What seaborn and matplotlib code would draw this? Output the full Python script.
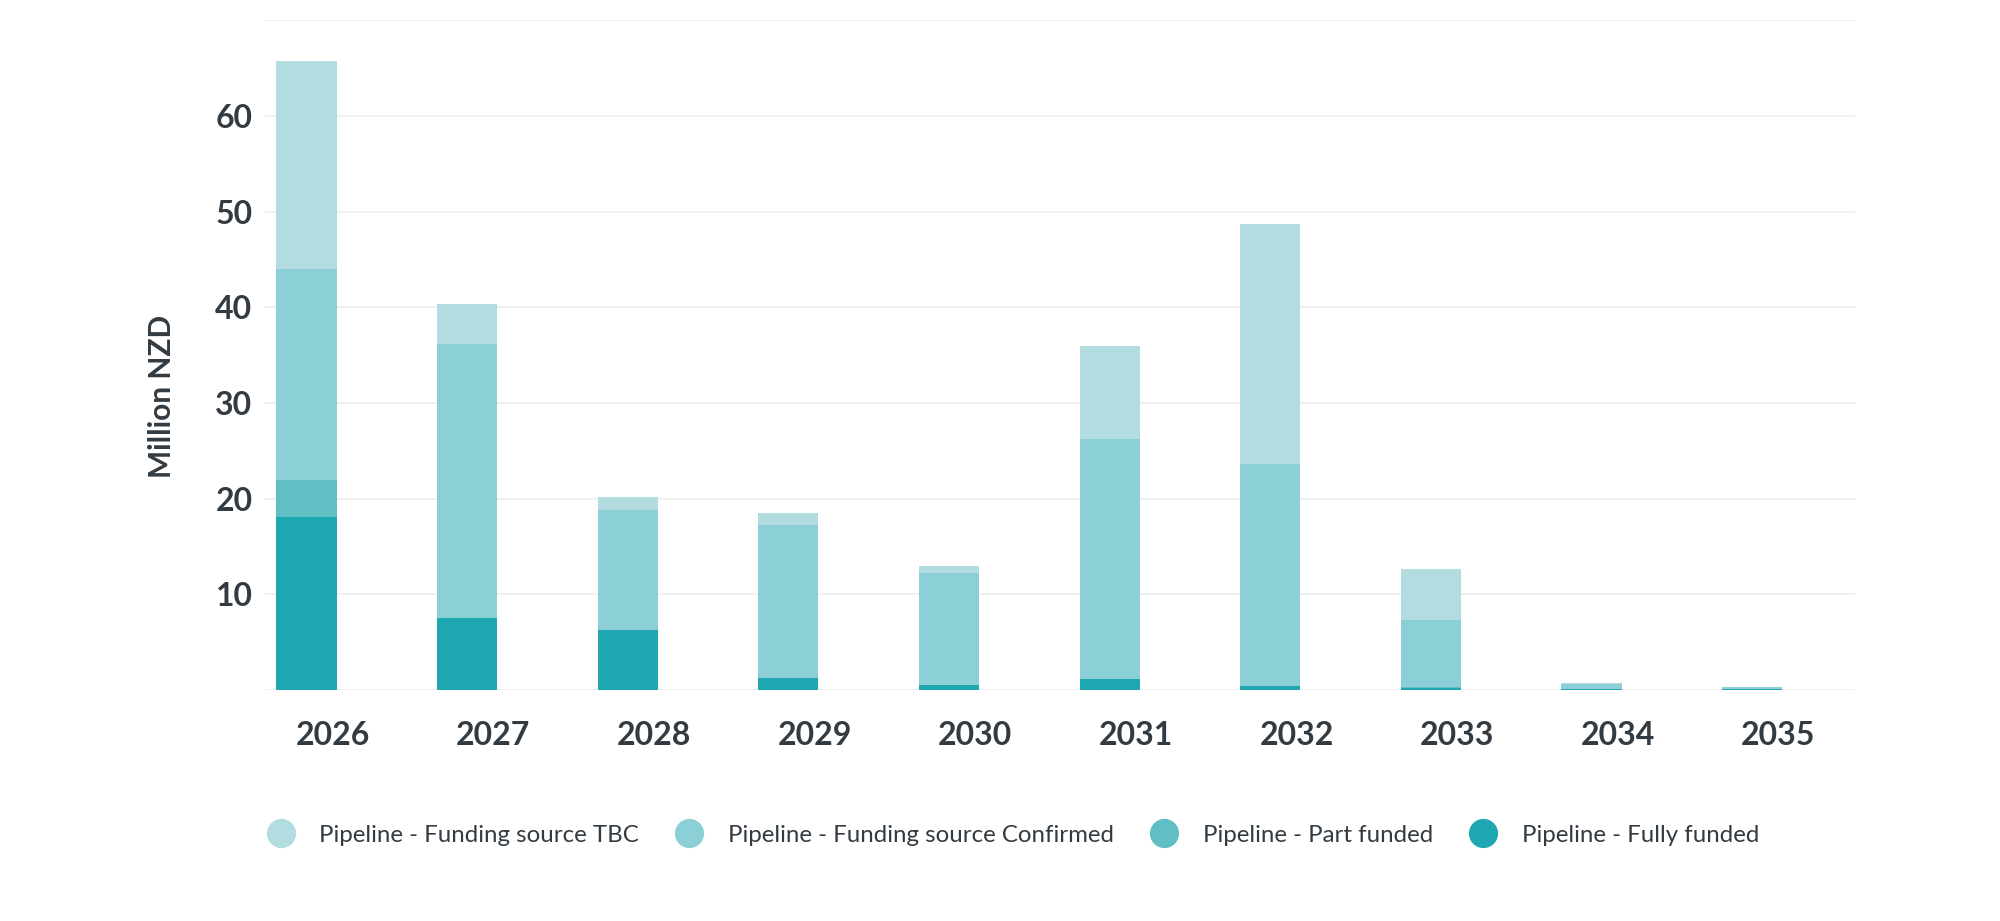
import numpy as np
import pandas as pd
import seaborn as sns
import matplotlib.pyplot as plt
from matplotlib.lines import Line2D

# data (million NZD)
years = ["2026", "2027", "2028", "2029", "2030", "2031", "2032", "2033", "2034", "2035"]
fully_funded = [18.1, 7.5, 6.3, 1.3, 0.5, 1.2, 0.45, 0.25, 0.1, 0.1]
part_funded = [3.9, 0, 0, 0, 0, 0, 0, 0.05, 0, 0]
source_confirmed = [22.0, 28.7, 12.5, 15.9, 11.7, 25.05, 23.15, 7.05, 0.5, 0.18]
source_tbc = [21.8, 4.2, 1.4, 1.3, 0.8, 9.75, 25.1, 5.3, 0.1, 0]

series = ["Pipeline - Funding source TBC", "Pipeline - Funding source Confirmed",
          "Pipeline - Part funded", "Pipeline - Fully funded"]
colors = ["#b2dcdf", "#8ad0d6", "#5fbfc4", "#1ea7b1"]
txt = "#333b42"

df = pd.DataFrame({"year": years, "fully": fully_funded, "part": part_funded,
                   "conf": source_confirmed, "tbc": source_tbc})
# cumulative tops, drawn biggest first so the lower layers sit on top
df["top_fully"] = df["fully"]
df["top_part"] = df["top_fully"] + df["part"]
df["top_conf"] = df["top_part"] + df["conf"]
df["top_tbc"] = df["top_conf"] + df["tbc"]

sns.set_theme(style="white")
plt.rcParams["font.family"] = ["Lato", "DejaVu Sans"]

fig = plt.figure(figsize=(20, 9.21), dpi=100)
ax = fig.add_axes([0.1325, 0.2508, 0.795, 0.727])

for col, c in zip(["top_tbc", "top_conf", "top_part", "top_fully"], colors):
    sns.barplot(data=df, x="year", y=col, color=c, width=0.375, saturation=1,
                linewidth=0, ax=ax, zorder=3)

ax.set_ylim(0, 70)
ax.set_xlim(-0.258, 9.64)
# year labels sit a bit right of the bars in the original
ax.set_xticks(np.arange(len(years)) + 0.163, labels=years)
ax.set_yticks(range(0, 80, 10))
ax.set_yticklabels(["", "10", "20", "30", "40", "50", "60", ""])
ax.yaxis.grid(True, color="#eeeeee", linewidth=1.2, zorder=0)
ax.xaxis.grid(False)
for s in ax.spines.values():
    s.set_visible(False)
ax.tick_params(axis="both", length=0, labelsize=23, colors=txt)
ax.tick_params(axis="x", pad=22)
ax.tick_params(axis="y", pad=9)
for lab in ax.get_xticklabels() + ax.get_yticklabels():
    lab.set_fontweight("bold")
ax.set_xlabel("")
ax.set_ylabel("Million NZD", fontsize=21.5, fontweight="bold", color=txt)
ax.yaxis.set_label_coords(-0.056, 0.438)

handles = [Line2D([0], [0], marker="o", linestyle="", markersize=20,
                  markerfacecolor=c, markeredgecolor=c) for c in colors]
fig.legend(handles, series, loc="center", bbox_to_anchor=(0.507, 0.093), ncol=4,
           frameon=False, fontsize=17.3, labelcolor=txt, handlelength=1.0,
           handletextpad=1.1, columnspacing=1.6)

fig.savefig("out.png", dpi=100)
